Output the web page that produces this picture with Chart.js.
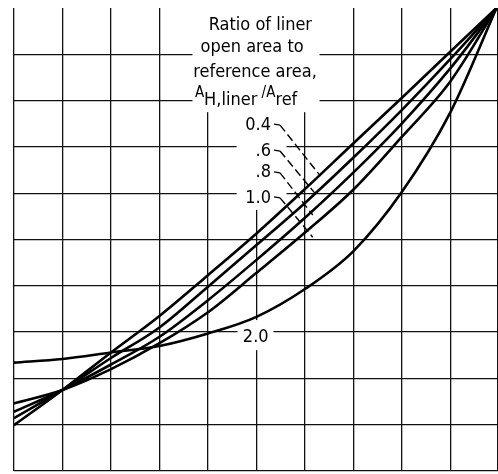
<!DOCTYPE html>
<html>
<head>
<meta charset="utf-8">
<script src="https://cdn.jsdelivr.net/npm/chart.js@4/dist/chart.umd.min.js"></script>
<style>
  html, body { margin: 0; padding: 0; background: #fff; }
  #wrap { width: 498px; height: 474px; }
</style>
</head>
<body>
<div id="wrap"><canvas id="c" width="498" height="474"></canvas></div>
<script>
"use strict";

// --- Veri ---------------------------------------------------------------------

const xPos    = [0, 1, 2, 3, 4, 5, 6, 7, 8, 9, 9.95];
const ratio04 = [0.99, 1.75, 2.56, 3.35, 4.23, 5.13, 6.09, 7.08, 8.06, 9.06, 10];
const ratio06 = [1.14, 1.75, 2.44, 3.10, 3.98, 4.88, 5.79, 6.77, 7.80, 8.90, 10];
const ratio08 = [1.28, 1.75, 2.30, 2.90, 3.69, 4.56, 5.47, 6.45, 7.51, 8.70, 10];
const ratio10 = [1.46, 1.75, 2.20, 2.76, 3.43, 4.28, 5.15, 6.08, 7.22, 8.42, 10];
const ratio20 = [2.34, 2.42, 2.56, 2.70, 2.97, 3.33, 3.93, 4.75, 6.03, 7.75, 10];

const seriesNames = ["0.4", ".6", ".8", "1.0", "2.0"];
const seriesData  = [ratio04, ratio06, ratio08, ratio10, ratio20];

const titleLines = ["Ratio of liner", "open area to", "reference area,"];

// --- Yardimcilar --------------------------------------------------------------

const FONT = '"DejaVu Sans Condensed", "Liberation Sans Narrow", "DejaVu Sans", sans-serif';
const INK = "#000";

const pts = (ys) => xPos.map((x, i) => ({ x, y: ys[i] }));

// baslik satirlari (veri birimi): [x merkez, y merkez]
const titlePos = [[5.08, 9.63], [4.91, 9.14], [4.97, 8.60]];

// etiket konumlari (veri birimi): [x sag kenar, y merkez, cizgi sonu x, y]
const leaders = [
  [5.30, 7.47, 6.32, 6.37],
  [5.30, 6.91, 6.22, 5.98],
  [5.30, 6.44, 6.16, 5.53],
  [5.30, 5.90, 6.16, 5.05],
];

function whiteBox(ctx, xs, ys, x0, x1, y0, y1) {
  const l = xs.getPixelForValue(x0), r = xs.getPixelForValue(x1);
  const t = ys.getPixelForValue(y1), b = ys.getPixelForValue(y0);
  ctx.fillStyle = "#fff";
  ctx.fillRect(l, t, r - l, b - t);
}

const annot = {
  id: "annot",
  beforeDatasetsDraw(chart) {
    const { ctx, scales: { x: xs, y: ys } } = chart;
    ctx.save();
    whiteBox(ctx, xs, ys, 3.68, 6.3, 7.75, 10.2);
    whiteBox(ctx, xs, ys, 4.59, 5.62, 5.64, 7.8);
    whiteBox(ctx, xs, ys, 4.61, 5.35, 2.61, 3.26);

    ctx.fillStyle = INK;
    ctx.textBaseline = "middle";
    ctx.textAlign = "center";
    ctx.font = `18px ${FONT}`;
    titlePos.forEach((p, i) => {
      ctx.fillText(titleLines[i], xs.getPixelForValue(p[0]), ys.getPixelForValue(p[1]));
    });

    // A_H,liner / A_ref
    ctx.textAlign = "left";
    let px = xs.getPixelForValue(3.73);
    const py = ys.getPixelForValue(8.10);
    const part = (txt, size, dy) => {
      ctx.font = `${size}px ${FONT}`;
      ctx.fillText(txt, px, py + dy);
      px += ctx.measureText(txt).width;
    };
    part("A", 15, -3);
    part("H,liner", 18, 4);
    part(" /A", 15, -3);
    part("ref", 18, 4);

    // oran etiketleri
    ctx.font = `18px ${FONT}`;
    ctx.textAlign = "right";
    leaders.forEach((l, i) => {
      ctx.fillText(seriesNames[i], xs.getPixelForValue(l[0]), ys.getPixelForValue(l[1]));
    });
    ctx.fillText(seriesNames[4], xs.getPixelForValue(5.25), ys.getPixelForValue(2.89));
    ctx.restore();
  },
  afterDatasetsDraw(chart) {
    const { ctx, scales: { x: xs, y: ys } } = chart;
    ctx.save();
    ctx.strokeStyle = INK;
    ctx.lineWidth = 1.4;
    leaders.forEach((l) => {
      const x0 = xs.getPixelForValue(l[0]) + 3;
      const y0 = ys.getPixelForValue(l[1]) - 1;
      ctx.setLineDash([]);
      ctx.beginPath();
      ctx.moveTo(x0, y0);
      ctx.lineTo(x0 + 6, y0 + 1);
      ctx.stroke();
      ctx.setLineDash([8, 4]);
      ctx.beginPath();
      ctx.moveTo(x0 + 6, y0 + 1);
      ctx.lineTo(xs.getPixelForValue(l[2]), ys.getPixelForValue(l[3]));
      ctx.stroke();
    });
    ctx.restore();
  },
};

// --- Grafik -------------------------------------------------------------------

const gridOpts = (hideTop) => ({
  color: (c) => (hideTop && c.tick && c.tick.value === 10 ? "rgba(0,0,0,0)" : "#111"),
  lineWidth: 1.3,
  drawTicks: false,
});

new Chart(document.getElementById("c"), {
  type: "line",
  data: {
    datasets: seriesData.map((ys, i) => ({
      label: seriesNames[i],
      data: pts(ys),
      borderColor: INK,
      borderWidth: 2.6,
      pointRadius: 0,
      fill: false,
      cubicInterpolationMode: "monotone",
    })),
  },
  options: {
    responsive: false,
    animation: false,
    events: [],
    layout: { padding: { left: 14, top: 8, right: 0, bottom: 3 } },
    plugins: { legend: { display: false }, tooltip: { enabled: false } },
    scales: {
      x: {
        type: "linear", min: 0, max: 9.98,
        ticks: { display: false, stepSize: 1 },
        grid: gridOpts(false),
        border: { display: false },
      },
      y: {
        type: "linear", min: 0, max: 10,
        ticks: { display: false, stepSize: 1 },
        grid: gridOpts(true),
        border: { display: false },
      },
    },
  },
  plugins: [annot],
});
</script>
</body>
</html>
